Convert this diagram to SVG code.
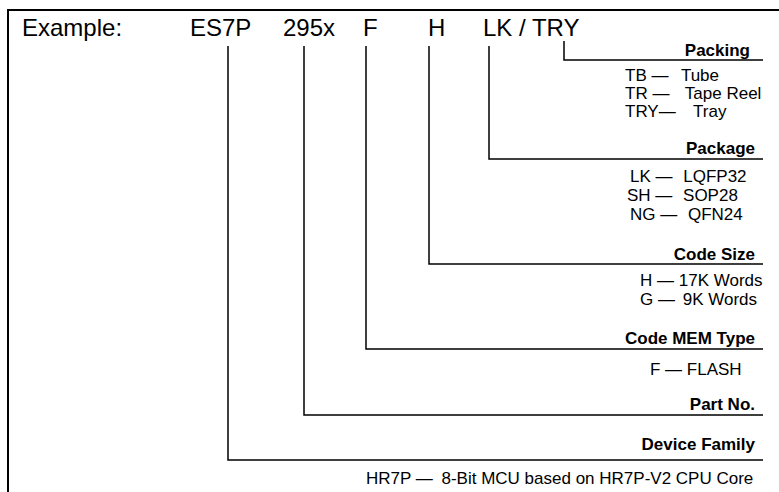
<svg xmlns="http://www.w3.org/2000/svg" width="779" height="492" viewBox="0 0 779 492">
<style>
text{font-family:"Liberation Sans",Arial,sans-serif;fill:#000}
.big{font-size:24px}
.lbl{font-size:17px;font-weight:bold;text-anchor:end}
.item{font-size:17px}
.ln{stroke:#000;stroke-width:1.5;fill:none}
.frame{stroke:#000;stroke-width:2;fill:none}
</style>
<rect width="779" height="492" fill="#fff"/>
<path class="frame" d="M8,492 V10 H779"/>
<g id="header">
<text class="big" x="22" y="36">Example:</text>
<text class="big" x="190" y="36">ES7P</text>
<text class="big" x="283" y="36">295x</text>
<text class="big" x="363" y="36">F</text>
<text class="big" x="428" y="36">H</text>
<text class="big" x="483" y="36">LK / TRY</text>
</g>
<g id="connectors">
<path class="ln" d="M564,41 V60 H763"/>
<path class="ln" d="M489,46 V159 H763"/>
<path class="ln" d="M429,46 V264 H763"/>
<path class="ln" d="M366,46 V349 H763"/>
<path class="ln" d="M304,46 V415 H763"/>
<path class="ln" d="M228,46 V460 H763"/>
</g>
<g id="packing">
<text class="lbl" x="750" y="56">Packing</text>
<text class="item" x="625" y="81">TB — <tspan dx="8">Tube</tspan></text>
<text class="item" x="625" y="99">TR — <tspan dx="11">Tape Reel</tspan></text>
<text class="item" x="625" y="117">TRY— <tspan dx="13">Tray</tspan></text>
</g>
<g id="package">
<text class="lbl" x="755" y="154">Package</text>
<text class="item" x="630" y="182">LK — <tspan dx="6">LQFP32</tspan></text>
<text class="item" x="627" y="201">SH — <tspan dx="6">SOP28</tspan></text>
<text class="item" x="630" y="220">NG — <tspan dx="6">QFN24</tspan></text>
</g>
<g id="codesize">
<text class="lbl" x="755" y="260">Code Size</text>
<text class="item" x="640" y="286">H — 17K Words</text>
<text class="item" x="640" y="305">G — <tspan dx="3">9K Words</tspan></text>
</g>
<g id="memtype">
<text class="lbl" x="755" y="344">Code MEM Type</text>
<text class="item" x="650" y="375">F — FLASH</text>
</g>
<g id="partno">
<text class="lbl" x="755" y="410">Part No.</text>
</g>
<g id="family">
<text class="lbl" x="755" y="450">Device Family</text>
<text class="item" x="366" y="484">HR7P — <tspan dx="4">8-Bit MCU based on HR7P-V2 CPU Core</tspan></text>
</g>
</svg>
